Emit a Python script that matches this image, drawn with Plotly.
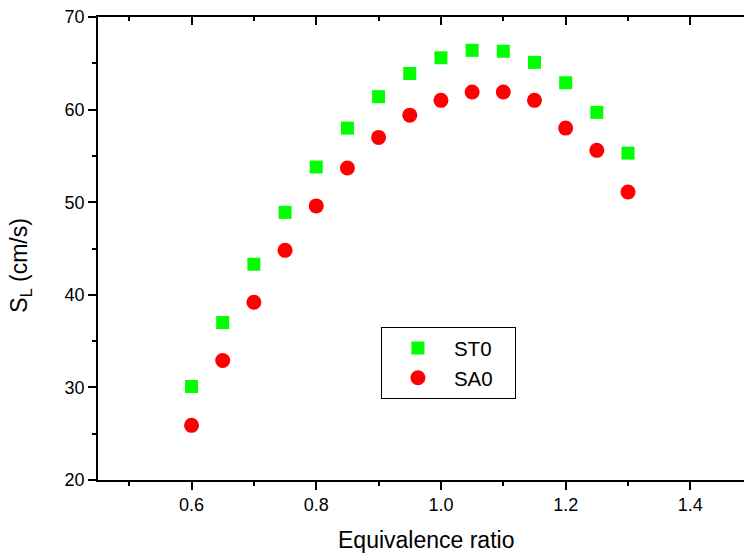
import plotly.graph_objects as go

phi = [0.6, 0.65, 0.7, 0.75, 0.8, 0.85, 0.9, 0.95, 1.0, 1.05, 1.1, 1.15, 1.2, 1.25, 1.3]
st0 = [30.1, 37.0, 43.3, 48.9, 53.8, 58.0, 61.4, 63.9, 65.6, 66.4, 66.3, 65.1, 62.9, 59.7, 55.3]
sa0 = [25.9, 32.9, 39.2, 44.8, 49.6, 53.7, 57.0, 59.4, 61.0, 61.9, 61.9, 61.0, 58.0, 55.6, 51.1]
series_names = ["ST0", "SA0"]

x_range = [0.45, 1.486]
y_range = [20, 70]
x_title = "Equivalence ratio"
y_title = "S<sub>L</sub> (cm/s)"

FONT = "Liberation Sans, Arial, sans-serif"
PAD = "\u00a0\u00a0\u00a0"

fig = go.Figure()
fig.add_trace(go.Scatter(x=phi, y=st0, mode="markers", name=series_names[0] + PAD,
                         marker=dict(symbol="square", size=13, color="#00FF00", line=dict(width=0))))
fig.add_trace(go.Scatter(x=phi, y=sa0, mode="markers", name=series_names[1] + PAD,
                         marker=dict(symbol="circle", size=15, color="#FF0000", line=dict(width=0))))
# invisible trace to activate the top mirrored axis
fig.add_trace(go.Scatter(x=phi, y=st0, xaxis="x2", mode="markers", showlegend=False,
                         hoverinfo="skip", marker=dict(opacity=0)))

axis_common = dict(showgrid=False, zeroline=False, showline=True, linecolor="black",
                   linewidth=1.6, tickcolor="black", tickwidth=1.5, ticklen=8,
                   tickfont=dict(family=FONT, size=18, color="black"))

fig.update_layout(
    width=744, height=554,
    margin=dict(l=98, r=0, t=17, b=74),
    paper_bgcolor="white", plot_bgcolor="white",
    font=dict(family=FONT, color="black"),
    xaxis=dict(range=x_range, ticks="outside", tick0=0.4, dtick=0.2, tickformat=".1f",
               minor=dict(ticks="outside", ticklen=4, tick0=0.5, dtick=0.1, tickcolor="black", tickwidth=1.5),
               **axis_common),
    xaxis2=dict(range=x_range, overlaying="x", side="top", anchor="y", ticks="inside",
                tick0=0.4, dtick=0.2, showticklabels=False,
                minor=dict(ticks="inside", ticklen=4, tick0=0.5, dtick=0.1, tickcolor="black", tickwidth=1.5),
                **axis_common),
    yaxis=dict(range=y_range, ticks="outside", tick0=20, dtick=10,
               minor=dict(ticks="outside", ticklen=4, tick0=25, dtick=10, tickcolor="black", tickwidth=1.5),
               **axis_common),
    showlegend=True,
    legend=dict(x=0.438, y=0.33, xanchor="left", yanchor="top",
                bordercolor="black", borderwidth=1, bgcolor="white",
                font=dict(family=FONT, size=20.5, color="black"),
                itemwidth=62, tracegroupgap=0),
    annotations=[
        dict(text=x_title, xref="paper", yref="paper", x=0.507, y=-0.13,
             xanchor="center", yanchor="middle", showarrow=False,
             font=dict(family=FONT, size=23, color="black")),
        dict(text=y_title, xref="paper", yref="paper", x=-0.12, y=0.464,
             xanchor="center", yanchor="middle", showarrow=False, textangle=-90,
             font=dict(family=FONT, size=23, color="black")),
    ],
)

fig.write_html("out.html", config={"displayModeBar": False},
               post_script="document.body.style.margin='0px';document.body.style.overflow='hidden';")
